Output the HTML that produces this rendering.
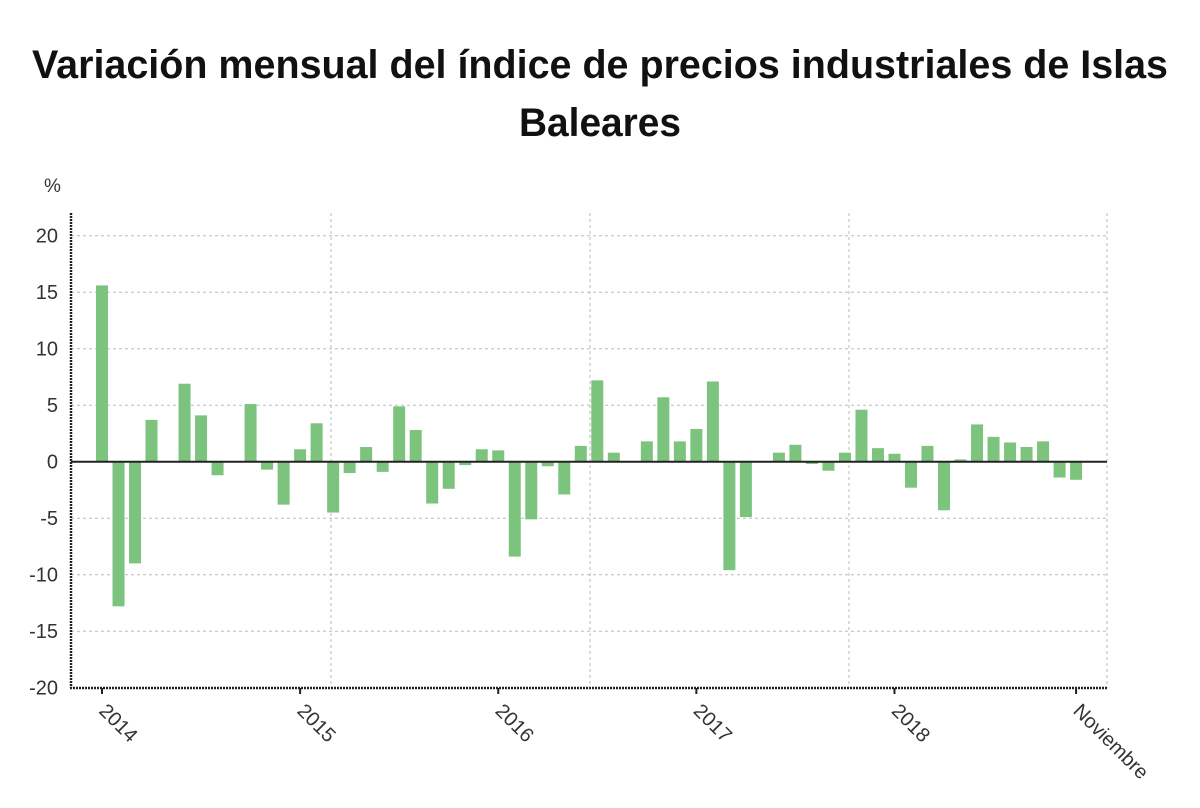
<!DOCTYPE html>
<html><head><meta charset="utf-8"><style>
html,body{margin:0;padding:0;background:#fff;}
svg{display:block;font-family:"Liberation Sans",sans-serif;}
</style></head><body>
<svg id="chart" width="1200" height="808" viewBox="0 0 1200 808">
<text x="600" y="78" text-anchor="middle" font-size="40" font-weight="bold" fill="#111" textLength="1136" lengthAdjust="spacingAndGlyphs">Variación mensual del índice de precios industriales de Islas</text>
<text x="600" y="136" text-anchor="middle" font-size="40" font-weight="bold" fill="#111" textLength="162" lengthAdjust="spacingAndGlyphs">Baleares</text>
<text x="44" y="192" font-size="19" fill="#333">%</text>
<g id="grid"></g><g id="bars"></g><g id="axes"></g>
</svg>
<script>
const categories = [];
(function(){for(let y=2014;y<=2018;y++)for(let m=1;m<=12;m++)categories.push(y+'-'+m);})();
const values = [15.6,-12.8,-9.0,3.7,0,6.9,4.1,-1.2,0,5.1,-0.7,-3.8,
1.1,3.4,-4.5,-1.0,1.3,-0.9,4.9,2.8,-3.7,-2.4,-0.3,1.1,
1.0,-8.4,-5.1,-0.4,-2.9,1.4,7.2,0.8,0,1.8,5.7,1.8,
2.9,7.1,-9.6,-4.9,0.05,0.8,1.5,-0.2,-0.8,0.8,4.6,1.2,
0.7,-2.3,1.4,-4.3,0.2,3.3,2.2,1.7,1.3,1.8,-1.4,-1.6];
const yTicks = [20,15,10,5,0,-5,-10,-15,-20];
const xLabels = ['2014','2015','2016','2017','2018','Noviembre'];
const xLabelIdx = [0,12,24,36,48,59];
const NS='http://www.w3.org/2000/svg';
const X0=102, DX=16.51, BW=12;
function xs(i){return X0+i*DX;}
function ys(v){return 461.7 - v*11.3;}
function mk(tag,attrs,parent){const e=document.createElementNS(NS,tag);for(const k in attrs)e.setAttribute(k,attrs[k]);parent.appendChild(e);return e;}
const grid=document.getElementById('grid'),bars=document.getElementById('bars'),axes=document.getElementById('axes');
yTicks.forEach(t=>{
  if(t!==-20&&t!==0){const l=mk('line',{x1:71,x2:1107,y1:ys(t),y2:ys(t),stroke:'#bbb','stroke-width':1,'stroke-dasharray':'3,3'},grid);
  
  }
  const tx=mk('text',{x:58,y:ys(t)+7,'text-anchor':'end','font-size':20,fill:'#333'},axes);
  tx.textContent=t;
  
  
});
[331,590,849,1107].forEach(x=>{const l=mk('line',{x1:x,x2:x,y1:213,y2:688,stroke:'#bbb','stroke-width':1,'stroke-dasharray':'3,3'},grid);
  
  });
values.forEach((v,i)=>{
  const y0=ys(0),y1=ys(v);
  const r=mk('rect',{x:xs(i)-BW/2,y:Math.min(y0,y1),width:BW,height:Math.max(Math.abs(y1-y0),0.5),fill:'#7cc37e'},bars);
  
  
});
let z=mk('line',{x1:71,x2:1107,y1:ys(0),y2:ys(0),stroke:'#222','stroke-width':2},axes);


let ya=mk('line',{x1:71,x2:71,y1:213,y2:688,stroke:'#222','stroke-width':2.5,'stroke-dasharray':'2,1'},axes);


let xa=mk('line',{x1:70,x2:1107,y1:688,y2:688,stroke:'#222','stroke-width':2.5,'stroke-dasharray':'2,1'},axes);


xLabels.forEach((lab,k)=>{
  const x=xs(xLabelIdx[k]);
  const tk=mk('line',{x1:x,x2:x,y1:688,y2:694,stroke:'#222','stroke-width':2},axes);
  
  
  const t=mk('text',{x:x-4,y:712,'font-size':20,fill:'#333',transform:'rotate(45 '+(x-4)+' 712)'},axes);
  t.textContent=lab;
  
  
});
</script>
</body></html>
